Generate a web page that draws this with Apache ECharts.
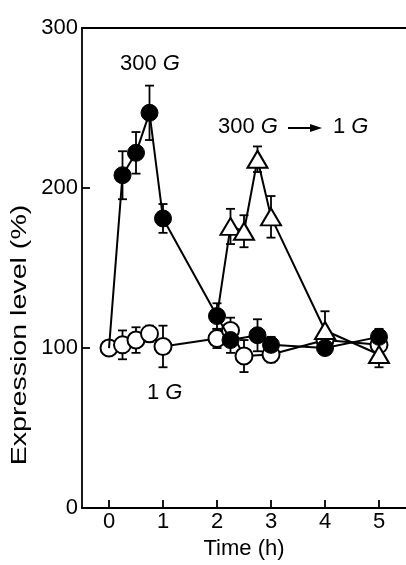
<!DOCTYPE html>
<html><head><meta charset="utf-8">
<script src="https://cdn.jsdelivr.net/npm/echarts@6/dist/echarts.min.js"></script>
<style>html,body{margin:0;padding:0;background:#fff}#c{width:406px;height:565px}</style>
</head><body><div id="c"></div>
<script>
// ---- data ----
const xTicks = [0, 1, 2, 3, 4, 5];
const yTicks = [0, 100, 200, 300];

// 300 G (filled circles); the 0 h point is the shared baseline (drawn as open circle)
const t300 = [0, 0.25, 0.5, 0.75, 1, 2, 2.25, 2.75, 3, 4, 5];
const v300 = [100, 208, 222, 247, 181, 120, 105, 108, 102, 100, 107];
const e300 = [null, 15, 13, 17, 9, 8, 8, 10, 5, 4, 5];

// 1 G (open circles)
const t1 = [0, 0.25, 0.5, 0.75, 1, 2, 2.25, 2.5, 3, 4, 5];
const v1 = [100, 102, 105, 109, 101, 106, 111, 95, 96, 105, 102];
const e1 = [4, 9, 8, 5, 13, 6, 8, 10, 5, 5, 5];

// 300 G -> 1 G (open triangles); first point is the shared 2 h point of 300 G
const tS = [2, 2.25, 2.5, 2.75, 3, 4, 5];
const vS = [120, 176, 173, 218, 182, 111, 96];
const eS = [null, 11, 10, 8, 13, 12, 8];

const FONT = 'Liberation Sans, Arial, sans-serif';
const FS = 22;
const INK = '#000';

function pts(t, v) { return t.map((x, i) => [x, v[i]]); }
function errs(t, v, e) {
  const out = [];
  t.forEach((x, i) => { if (e[i] != null) out.push([x, v[i] - e[i], v[i] + e[i]]); });
  return out;
}
function errRender(params, api) {
  const x = api.value(0), lo = api.value(1), hi = api.value(2);
  const a = api.coord([x, hi]), b = api.coord([x, lo]);
  const w = 4.5, st = { stroke: INK, lineWidth: 1.8 };
  return { type: 'group', children: [
    { type: 'line', shape: { x1: a[0], y1: a[1], x2: b[0], y2: b[1] }, style: st },
    { type: 'line', shape: { x1: a[0] - w, y1: a[1], x2: a[0] + w, y2: a[1] }, style: st },
    { type: 'line', shape: { x1: b[0] - w, y1: b[1], x2: b[0] + w, y2: b[1] }, style: st }
  ]};
}
function errSeries(data) {
  return { type: 'custom', renderItem: errRender, data: data, z: 1, silent: true,
           encode: { x: 0, y: [1, 2] } };
}
function hideFirst(data) {
  return data.map((p, i) => i === 0 ? { value: p, symbol: 'none' } : p);
}
const richG = { a: { fontSize: FS, fontFamily: FONT, fill: INK }, g: { fontSize: FS, fontFamily: FONT, fontStyle: 'italic', fill: INK } };

const chart = echarts.init(document.getElementById('c'), null, { renderer: 'canvas' });
chart.setOption({
  animation: false,
  backgroundColor: '#fff',
  textStyle: { fontFamily: FONT },
  grid: { left: 82, top: 28, width: 326, height: 488 },
  xAxis: [{
    type: 'value', min: -0.5, max: 5.5,
    name: 'Time (h)', nameLocation: 'middle', nameGap: 29,
    nameTextStyle: { fontSize: FS, color: INK, fontFamily: FONT },
    axisLine: { onZero: false, lineStyle: { color: INK, width: 1.8 } },
    axisTick: { inside: true, length: 8, customValues: xTicks, lineStyle: { color: INK, width: 1.8 } },
    axisLabel: { customValues: xTicks, fontSize: FS, color: INK, margin: 3, fontFamily: FONT },
    splitLine: { show: false }
  }, {
    type: 'value', min: -0.5, max: 5.5, position: 'top',
    axisLine: { show: true, onZero: false, lineStyle: { color: INK, width: 1.8 } },
    axisTick: { show: false }, axisLabel: { show: false }, splitLine: { show: false }
  }],
  yAxis: {
    type: 'value', min: 0, max: 300, interval: 100,
    axisLine: { show: true, onZero: false, lineStyle: { color: INK, width: 1.8 } },
    axisTick: { show: true, inside: true, length: 8, lineStyle: { color: INK, width: 1.8 } },
    axisLabel: { fontSize: FS, color: INK, margin: 4, fontFamily: FONT },
    splitLine: { show: false }
  },
  graphic: [
    { type: 'text', x: 20, y: 335, rotation: Math.PI / 2, scaleX: 1.3,
      style: { text: 'Expression level (%)', fontSize: FS, fontFamily: FONT, fill: INK, align: 'center', verticalAlign: 'middle' } },
    { type: 'text', left: 120, top: 53, style: { rich: richG, text: '{a|300 }{g|G}' } },
    { type: 'text', left: 218, top: 116, style: { rich: richG, text: '{a|300 }{g|G}' } },
    { type: 'line', shape: { x1: 288, y1: 128, x2: 312, y2: 128 }, style: { stroke: INK, lineWidth: 2 } },
    { type: 'polygon', shape: { points: [[310, 124], [322, 128], [310, 132]] }, style: { fill: INK } },
    { type: 'text', left: 333, top: 116, style: { rich: richG, text: '{a|1 }{g|G}' } },
    { type: 'text', left: 147, top: 382, style: { rich: richG, text: '{a|1 }{g|G}' } }
  ],
  series: [
    errSeries(errs(t1, v1, e1)),
    errSeries(errs(t300, v300, e300)),
    errSeries(errs(tS, vS, eS)),
    { type: 'line', data: pts(t1, v1), symbol: 'circle', symbolSize: 17, z: 3,
      lineStyle: { color: INK, width: 2 }, itemStyle: { color: '#fff', borderColor: INK, borderWidth: 2 } },
    { type: 'line', data: hideFirst(pts(t300, v300)), symbol: 'circle', symbolSize: 17, z: 4,
      lineStyle: { color: INK, width: 2 }, itemStyle: { color: INK, borderColor: INK, borderWidth: 1 } },
    { type: 'line', data: hideFirst(pts(tS, vS)), symbol: 'triangle', symbolSize: [20, 17], z: 5,
      lineStyle: { color: INK, width: 2 }, itemStyle: { color: '#fff', borderColor: INK, borderWidth: 2 } }
  ]
});
</script>
</body></html>
